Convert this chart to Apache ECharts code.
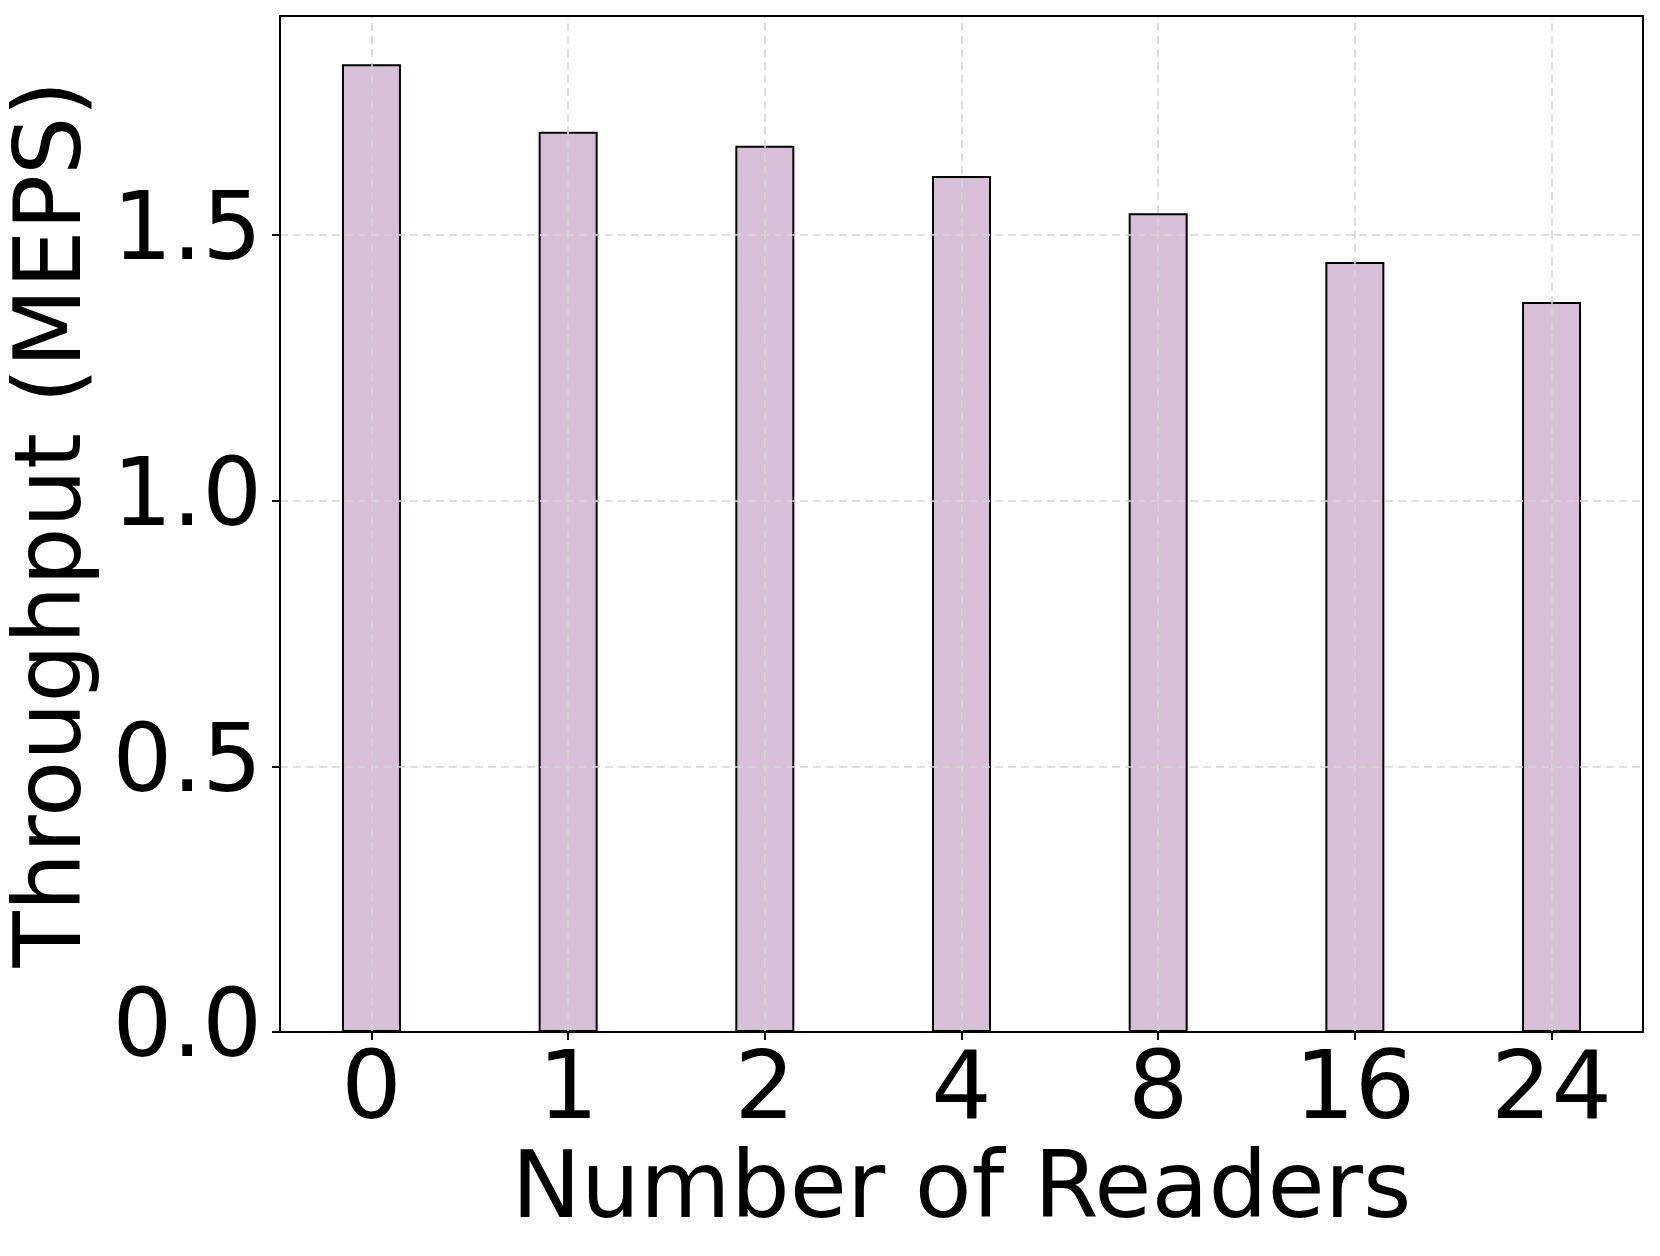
<!DOCTYPE html>
<html>
<head>
<meta charset="utf-8">
<script src="https://cdn.jsdelivr.net/npm/echarts@6/dist/echarts.min.js"></script>
<style>html,body{margin:0;padding:0;background:#fff;}#c{width:1660px;height:1256px;}</style>
</head>
<body>
<div id="c"></div>
<script>
const categories = ['0', '1', '2', '4', '8', '16', '24'];
const throughput = [1.821, 1.694, 1.668, 1.611, 1.541, 1.449, 1.374];
const yTicks = [0.0, 0.5, 1.0, 1.5];

const positions = categories.map((c, i) => i);
const chart = echarts.init(document.getElementById('c'), null, {renderer: 'canvas'});
const FONT = 'DejaVu Sans';
const gridStyle = {color: '#d4d4d4', width: 1.5, type: [8, 5]};

chart.setOption({
  animation: false,
  backgroundColor: '#fff',
  grid: {left: 280, right: 17, top: 16, bottom: 224, show: true, borderColor: '#000', borderWidth: 2, backgroundColor: 'transparent', z: 10, containLabel: false, outerBoundsMode: 'none'},
  xAxis: {
    type: 'value', min: -0.465, max: 6.465, z: 5,
    name: 'Number of Readers', nameLocation: 'middle', nameGap: 112,
    nameTextStyle: {fontFamily: FONT, fontSize: 93, color: '#000'},
    axisLine: {show: true, onZero: false, lineStyle: {color: '#000', width: 2}},
    axisTick: {show: true, length: 8, lineStyle: {color: '#000', width: 2}, customValues: positions},
    axisLabel: {fontFamily: FONT, fontSize: 95, color: '#000', margin: 14, customValues: positions,
      formatter: v => categories[Math.round(v)] ?? ''},
    splitLine: {show: false}
  },
  yAxis: {
    type: 'value', min: 0, max: 1.912, interval: 0.5, z: 5,
    name: 'Throughput (MEPS)', nameLocation: 'middle', nameGap: 157,
    nameTextStyle: {fontFamily: FONT, fontSize: 92, color: '#000'},
    axisLine: {show: true, onZero: false, lineStyle: {color: '#000', width: 2}},
    axisTick: {show: true, length: 8, lineStyle: {color: '#000', width: 2}, customValues: yTicks},
    axisLabel: {fontFamily: FONT, fontSize: 94, color: '#000', margin: 18, customValues: yTicks,
      formatter: v => v.toFixed(1)},
    splitLine: {show: true, lineStyle: gridStyle}
  },
  series: [{
    type: 'bar',
    data: positions.map((p, i) => [p, throughput[i]]),
    barWidth: 59,
    itemStyle: {color: '#d8bfd8', borderColor: '#000', borderWidth: 2},
    z: 2,
    markLine: {
      silent: true, symbol: 'none', label: {show: false}, z: 4,
      lineStyle: gridStyle,
      data: positions.map(p => ({xAxis: p}))
    }
  }]
});
</script>
</body>
</html>
